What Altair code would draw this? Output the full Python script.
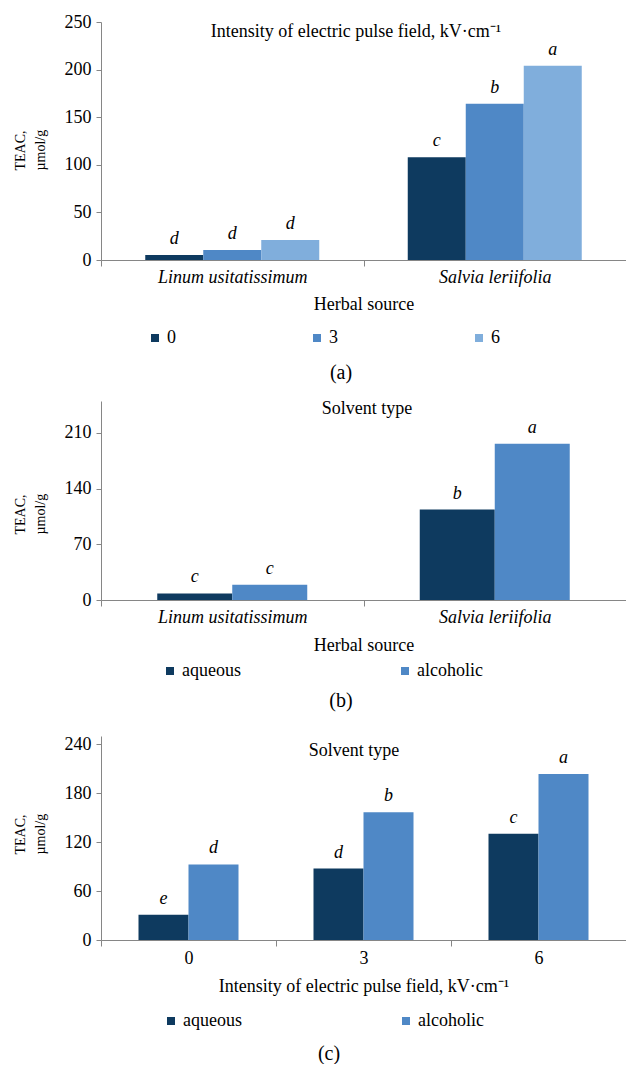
import json
import altair as alt
import pandas as pd

FONT = "Liberation Serif, Times New Roman, serif"
GREY = "#868686"
DARK = "#0E3A5F"
MID = "#4F88C6"
LIGHT = "#80AEDC"

# ---------- data ----------
herbs = ["Linum usitatissimum", "Salvia leriifolia"]
intensities = ["0", "3", "6"]
solvents = ["aqueous", "alcoholic"]

# (a) TEAC by herb (rows) and field intensity (columns)
a_values = [[5.2, 10.5, 21.0],      # Linum usitatissimum: 0, 3, 6
            [108.0, 164.0, 204.0]]  # Salvia leriifolia: 0, 3, 6
a_letters = [["d", "d", "d"], ["c", "b", "a"]]
a_yticks = [0, 50, 100, 150, 200, 250]

# (b) TEAC by herb (rows) and solvent (columns)
b_values = [[8.3, 19.2],            # Linum: aqueous, alcoholic
            [113.6, 196.2]]         # Salvia: aqueous, alcoholic
b_letters = [["c", "c"], ["b", "a"]]
b_yticks = [0, 70, 140, 210]

# (c) TEAC by field intensity (rows) and solvent (columns)
c_values = [[31.0, 92.6],           # 0 kV/cm
            [87.6, 156.5],          # 3 kV/cm
            [130.2, 203.5]]         # 6 kV/cm
c_letters = [["e", "d"], ["d", "b"], ["c", "a"]]
c_yticks = [0, 60, 120, 180, 240]


def table(cats, grps, values, letters):
    rows = []
    for ci, cat in enumerate(cats):
        for gi, grp in enumerate(grps):
            rows.append({"cat": cat, "grp": grp, "ci": ci, "gi": gi,
                         "value": values[ci][gi], "letter": letters[ci][gi]})
    return pd.DataFrame(rows)


def panel(df, xdomain, italic, xtitle, cdomain, crange, ymax, yticks, W, H,
          header, head_x, head_y, caption, cap_x, cap_y, leg_x, leg_y, col_pad,
          barfrac, lab_pad, title_pad, ytitle_y):
    n = len(xdomain)
    ng = len(cdomain)
    step = W / n
    label_expr = json.dumps(list(xdomain)) + "[datum.value]"
    xaxis = alt.Axis(title=xtitle, values=list(range(n)), labelExpr=label_expr,
                     labelOffset=step / 2, labelOverlap=False, labelFlush=False,
                     labelAngle=0, labelFont=FONT, labelFontSize=18,
                     labelFontStyle="italic" if italic else "normal",
                     labelColor="black", titleFont=FONT, titleFontSize=18,
                     titleFontWeight="normal", titleColor="black",
                     tickSize=6, tickColor=GREY, domainColor=GREY, grid=False,
                     labelPadding=lab_pad, titlePadding=title_pad)
    xscale = alt.Scale(domain=[0, n], nice=False, zero=False)
    yaxis = alt.Axis(title=["TEAC,", "µmol/g"], values=yticks, grid=False,
                     labelFont=FONT, labelFontSize=18, labelColor="black",
                     titleFont=FONT, titleFontSize=14, titleFontWeight="normal",
                     titleColor="black", titleLineHeight=20, titleAlign="left",
                     titleY=ytitle_y,
                     tickSize=5, tickColor=GREY, domainColor=GREY,
                     labelPadding=5, titlePadding=17)
    y = alt.Y("value:Q", scale=alt.Scale(domain=[0, ymax], nice=False), axis=yaxis)
    color = alt.Color("grp:N", sort=cdomain,
                      scale=alt.Scale(domain=cdomain, range=crange),
                      legend=alt.Legend(orient="none", legendX=leg_x, legendY=leg_y,
                                        direction="horizontal", title=None,
                                        symbolType="square", symbolSize=64,
                                        symbolStrokeWidth=0, labelFont=FONT,
                                        labelFontSize=18, labelColor="black",
                                        labelOffset=3, columnPadding=col_pad))
    base = alt.Chart(df).transform_calculate(
        xc=f"datum.ci + 0.5 + (datum.gi - {(ng - 1) / 2}) * {barfrac}",
        x0=f"datum.ci + 0.5 + (datum.gi - {(ng - 1) / 2}) * {barfrac} - {barfrac / 2}",
        x1=f"datum.ci + 0.5 + (datum.gi - {(ng - 1) / 2}) * {barfrac} + {barfrac / 2}",
    )
    bars = base.mark_bar().encode(
        x=alt.X("x0:Q", scale=xscale, axis=xaxis), x2="x1:Q",
        y=y, y2=alt.datum(0), color=color)
    letters = base.mark_text(font=FONT, fontSize=18, fontStyle="italic",
                             baseline="alphabetic", dy=-11).encode(
        x="xc:Q", y="value:Q", text="letter:N")
    head = alt.Chart(pd.DataFrame({"t": [header]})).mark_text(
        font=FONT, fontSize=18, align="center", baseline="middle").encode(
        x=alt.value(head_x), y=alt.value(head_y), text="t:N")
    cap = alt.Chart(pd.DataFrame({"t": [caption]})).mark_text(
        font=FONT, fontSize=20, align="center", baseline="middle").encode(
        x=alt.value(cap_x), y=alt.value(cap_y), text="t:N")
    return alt.layer(bars, letters, head, cap).properties(width=W, height=H)


W = 525
pa = panel(table(herbs, intensities, a_values, a_letters), herbs, True, "Herbal source",
           intensities, [DARK, MID, LIGHT], 250, a_yticks, W, 238,
           "Intensity of electric pulse field, kV·cm⁻¹", 255, 10,
           "(a)", 240, 238 + 113, 45, 307, 132, 58 / 262.5, 2, 9, 148)
pb = panel(table(herbs, solvents, b_values, b_letters), herbs, True, "Herbal source",
           solvents, [DARK, MID], 250, b_yticks, W, 199, "Solvent type", 266, 8,
           "(b)", 240, 199 + 101, 60, 261, 155, 75 / 262.5, 2, 10, 133)
pc = panel(table(intensities, solvents, c_values, c_letters), intensities, False,
           "Intensity of electric pulse field, kV·cm⁻¹",
           solvents, [DARK, MID], 250, c_yticks, W, 204, "Solvent type", 253, 15,
           "(c)", 228, 204 + 114, 61, 276, 155, 50 / 175, 3, 10, 118)

top = alt.vconcat(pa, pb, spacing=17).resolve_scale(color="independent").resolve_legend(color="independent")
chart = alt.vconcat(top, pc, spacing=24).resolve_scale(color="independent").resolve_legend(color="independent")
chart = (chart.properties(padding={"left": 13, "top": 13, "right": 0, "bottom": 0})
         .configure(font=FONT)
         .configure_view(stroke=None))

chart.save("out.html", embed_options={"renderer": "svg", "actions": False})
